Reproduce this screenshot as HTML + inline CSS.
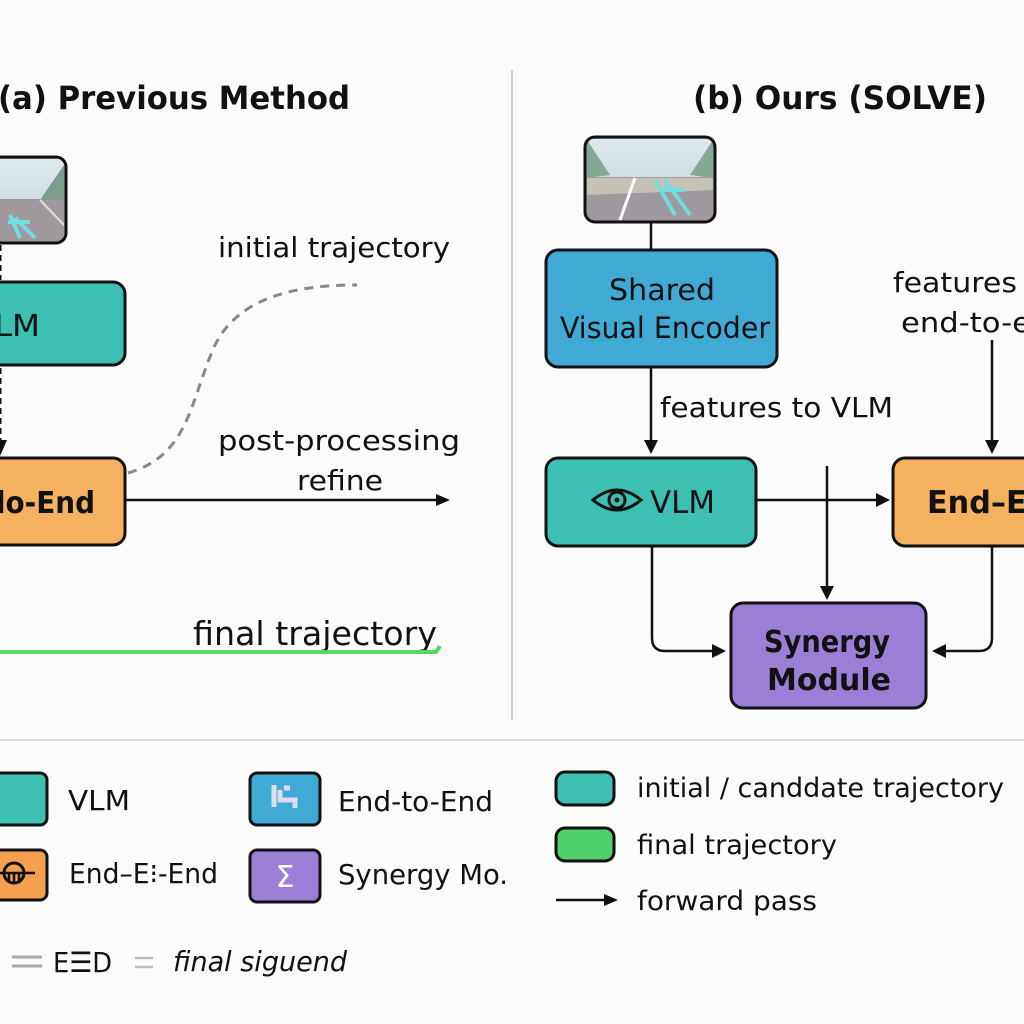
<!DOCTYPE html>
<html><head><meta charset="utf-8"><style>
html,body{margin:0;padding:0;background:#fbfbfb;}
svg{display:block;font-family:"DejaVu Sans","Liberation Sans",sans-serif;}
</style></head><body>
<svg width="1024" height="1024" viewBox="0 0 1024 1024" xmlns="http://www.w3.org/2000/svg">
<defs>
<linearGradient id="sky" x1="0" y1="0" x2="0" y2="1"><stop offset="0" stop-color="#dfeaee"/><stop offset="1" stop-color="#cfdde2"/></linearGradient>
</defs>
<rect width="1024" height="1024" fill="#fbfbfb"/>
<line x1="512" y1="70" x2="512" y2="720" stroke="#cfcfcf" stroke-width="2"/>
<line x1="0" y1="740" x2="1024" y2="740" stroke="#dcdcdc" stroke-width="2"/>
<text x="-2" y="109" font-size="32" font-weight="bold" fill="#111" textLength="352" lengthAdjust="spacingAndGlyphs">(a) Previous Method</text>
<text x="693" y="109" font-size="32" font-weight="bold" fill="#111" textLength="294" lengthAdjust="spacingAndGlyphs">(b) Ours (SOLVE)</text>

<!-- LEFT -->
<g>
<rect x="-60" y="157" width="126" height="86" rx="10" fill="#9a959a"/>
<rect x="-58" y="159" width="122" height="40" fill="url(#sky)"/>
<path d="M40,200 L64,165 L64,199 Z" fill="#7c9e8d"/>
<path d="M-58,200 L64,200 L64,240 L-58,240Z" fill="#a09a9e"/>
<path d="M40,200 L64,225" stroke="#ddd" stroke-width="2"/>
<path d="M10,215 L20,238 M15,218 L35,238 M8,222 L30,222" stroke="#6ee0e0" stroke-width="4"/>
<rect x="-60" y="157" width="126" height="86" rx="10" fill="none" stroke="#111" stroke-width="3"/>
</g>
<line x1="0" y1="245" x2="0" y2="280" stroke="#111" stroke-width="3" stroke-dasharray="6,4"/>
<rect x="-60" y="282" width="185" height="83" rx="12" fill="#3dbfb4" stroke="#111" stroke-width="3"/>
<text x="-6" y="336" font-size="30" fill="#111" textLength="46" lengthAdjust="spacingAndGlyphs">LM</text>
<line x1="0" y1="368" x2="0" y2="442" stroke="#111" stroke-width="3" stroke-dasharray="6,4"/>
<path d="M-7,440 L7,440 L0,456 Z" fill="#111"/>
<rect x="-60" y="458" width="185" height="87" rx="12" fill="#f5b060" stroke="#111" stroke-width="3"/>
<text x="-4" y="513" font-size="30" font-weight="bold" fill="#111" textLength="99" lengthAdjust="spacingAndGlyphs">lo-End</text>
<path d="M128,473 C190,455 190,400 215,345 C240,295 300,285 357,285" fill="none" stroke="#888" stroke-width="3" stroke-dasharray="9,7"/>
<text x="218" y="257" font-size="28" fill="#111" textLength="232" lengthAdjust="spacingAndGlyphs">initial trajectory</text>
<text x="218" y="450" font-size="28" fill="#111" textLength="242" lengthAdjust="spacingAndGlyphs">post-processing</text>
<text x="297" y="490" font-size="28" fill="#111" textLength="86" lengthAdjust="spacingAndGlyphs">refine</text>
<line x1="126" y1="500" x2="438" y2="500" stroke="#111" stroke-width="2.5"/>
<path d="M436,494 L450,500 L436,506 Z" fill="#111"/>
<text x="193" y="645" font-size="33" fill="#111" textLength="244" lengthAdjust="spacingAndGlyphs">final trajectory</text>
<path d="M0,652 L436,652 L440,646" fill="none" stroke="#5bd85a" stroke-width="4"/>

<!-- RIGHT -->
<g>
<rect x="585" y="137" width="130" height="85" rx="10" fill="#a09aa0"/>
<rect x="587" y="139" width="126" height="38" fill="url(#sky)"/>
<path d="M587,140 L610,175 L587,178Z M713,140 L690,175 L713,178Z" fill="#86a894"/>
<path d="M587,178 L713,178 L713,190 L587,195Z" fill="#c6c0b5"/>
<path d="M635,178 L620,220" stroke="#fff" stroke-width="3"/>
<path d="M655,180 L675,215 M660,190 L685,190 M665,180 L690,215" stroke="#70dcdc" stroke-width="4"/>
<rect x="585" y="137" width="130" height="85" rx="10" fill="none" stroke="#111" stroke-width="3"/>
</g>
<line x1="651" y1="222" x2="651" y2="250" stroke="#111" stroke-width="2.5"/>
<rect x="546" y="250" width="231" height="117" rx="12" fill="#40a9d4" stroke="#111" stroke-width="3"/>
<text x="609" y="300" font-size="29" fill="#111" textLength="106" lengthAdjust="spacingAndGlyphs">Shared</text>
<text x="560" y="338" font-size="29" fill="#111" textLength="210" lengthAdjust="spacingAndGlyphs">Visual Encoder</text>
<line x1="651" y1="367" x2="651" y2="440" stroke="#111" stroke-width="2.5"/>
<path d="M644,440 L658,440 L651,454 Z" fill="#111"/>
<text x="660" y="417" font-size="28" fill="#111" textLength="233" lengthAdjust="spacingAndGlyphs">features to VLM</text>
<rect x="546" y="458" width="210" height="88" rx="12" fill="#3dbfb4" stroke="#111" stroke-width="3"/>
<path d="M593,500 Q617,480 641,500 Q617,520 593,500Z" fill="none" stroke="#111" stroke-width="3"/>
<circle cx="617" cy="500" r="8" fill="none" stroke="#111" stroke-width="3"/>
<circle cx="617" cy="500" r="2.5" fill="#111"/>
<text x="650" y="513" font-size="31" fill="#111" textLength="65" lengthAdjust="spacingAndGlyphs">VLM</text>
<line x1="757" y1="500" x2="878" y2="500" stroke="#111" stroke-width="2.5"/>
<path d="M876,493 L890,500 L876,507 Z" fill="#111"/>
<rect x="893" y="458" width="150" height="88" rx="12" fill="#f5b060" stroke="#111" stroke-width="3"/>
<text x="927" y="513" font-size="31" font-weight="bold" fill="#111" textLength="110" lengthAdjust="spacingAndGlyphs">End–El</text>
<text x="893" y="292" font-size="28" fill="#111" textLength="124" lengthAdjust="spacingAndGlyphs">features</text>
<text x="901" y="332" font-size="28" fill="#111" textLength="130" lengthAdjust="spacingAndGlyphs">end-to-e</text>
<line x1="992" y1="340" x2="992" y2="440" stroke="#111" stroke-width="2.5"/>
<path d="M985,440 L999,440 L992,454 Z" fill="#111"/>
<line x1="827" y1="466" x2="827" y2="588" stroke="#111" stroke-width="2.5"/>
<path d="M820,586 L834,586 L827,600 Z" fill="#111"/>
<rect x="731" y="603" width="195" height="105" rx="12" fill="#9b7fd6" stroke="#111" stroke-width="3"/>
<text x="764" y="652" font-size="30" font-weight="bold" fill="#111" textLength="126" lengthAdjust="spacingAndGlyphs">Synergy</text>
<text x="767" y="690" font-size="30" font-weight="bold" fill="#111" textLength="124" lengthAdjust="spacingAndGlyphs">Module</text>
<path d="M652,546 L652,638 Q652,651 665,651 L714,651" fill="none" stroke="#111" stroke-width="2.5"/>
<path d="M712,644 L726,651 L712,658 Z" fill="#111"/>
<path d="M992,546 L992,638 Q992,651 979,651 L944,651" fill="none" stroke="#111" stroke-width="2.5"/>
<path d="M946,644 L932,651 L946,658 Z" fill="#111"/>

<!-- LEGEND -->
<rect x="-12" y="773" width="59" height="52" rx="7" fill="#3dbfb4" stroke="#111" stroke-width="3"/>
<text x="68" y="810" font-size="28" fill="#111" textLength="62" lengthAdjust="spacingAndGlyphs">VLM</text>
<rect x="250" y="773" width="70" height="52" rx="7" fill="#40a9d4" stroke="#111" stroke-width="3"/>
<path d="M274,785 L274,807 M280,790 L280,800 L295,800 L295,808 M284,788 L290,788" stroke="#dde" stroke-width="5" fill="none"/>
<text x="338" y="811" font-size="28" fill="#111" textLength="155" lengthAdjust="spacingAndGlyphs">End-to-End</text>
<rect x="-12" y="850" width="59" height="50" rx="7" fill="#f5a050" stroke="#111" stroke-width="3"/>
<circle cx="14" cy="873" r="10" fill="none" stroke="#111" stroke-width="3"/>
<path d="M-4,873 L35,873 M9,873 L9,883 M14,873 L14,883 M19,873 L19,883" stroke="#111" stroke-width="2.5"/>
<text x="69" y="883" font-size="28" fill="#111" textLength="149" lengthAdjust="spacingAndGlyphs">End–E⁝-End</text>
<rect x="250" y="850" width="70" height="52" rx="7" fill="#9b7fd6" stroke="#111" stroke-width="3"/>
<text x="285" y="887" font-size="30" fill="#fff" text-anchor="middle">Σ</text>
<text x="338" y="884" font-size="28" fill="#111" textLength="170" lengthAdjust="spacingAndGlyphs">Synergy Mo.</text>
<path d="M12,957 L42,957 M12,966 L42,966" stroke="#aaa" stroke-width="3"/>
<text x="53" y="972" font-size="28" fill="#111" textLength="59" lengthAdjust="spacingAndGlyphs">E☰D</text>
<path d="M135,958 L153,958 M135,967 L153,967" stroke="#bbb" stroke-width="2.5"/>
<text x="173" y="971" font-size="28" font-style="italic" fill="#111" textLength="174" lengthAdjust="spacingAndGlyphs">final siguend</text>
<rect x="556" y="772" width="58" height="33" rx="9" fill="#3dbfb4" stroke="#111" stroke-width="3"/>
<text x="637" y="797" font-size="27" fill="#111" textLength="367" lengthAdjust="spacingAndGlyphs">initial / canddate trajectory</text>
<rect x="556" y="828" width="58" height="33" rx="9" fill="#4fd06c" stroke="#111" stroke-width="3"/>
<text x="637" y="854" font-size="27" fill="#111" textLength="200" lengthAdjust="spacingAndGlyphs">final trajectory</text>
<line x1="556" y1="900" x2="606" y2="900" stroke="#111" stroke-width="2.5"/>
<path d="M604,894 L618,900 L604,906 Z" fill="#111"/>
<text x="637" y="910" font-size="27" fill="#111" textLength="180" lengthAdjust="spacingAndGlyphs">forward pass</text>
</svg>
</body></html>
